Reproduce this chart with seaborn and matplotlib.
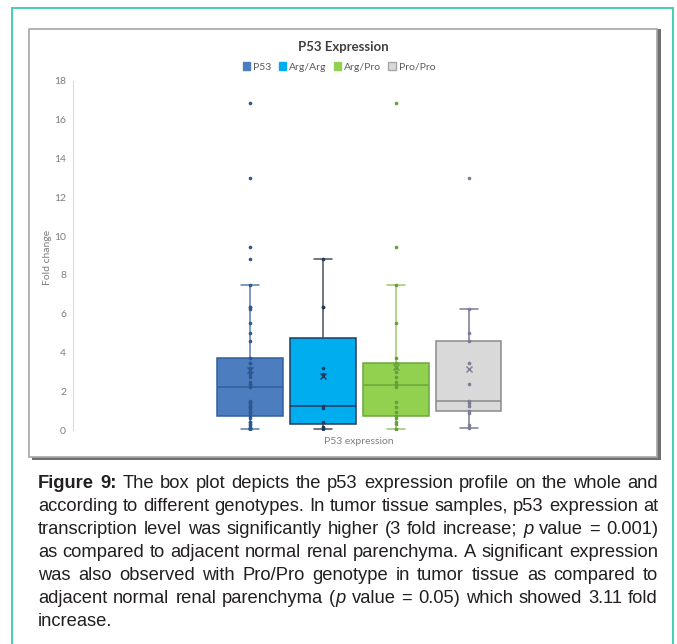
import pandas as pd
import seaborn as sns
import matplotlib.pyplot as plt
from matplotlib.patches import Rectangle, Patch

# fold change values per genotype
arg_arg = [0.05, 0.09, 0.15, 0.43, 1.12, 1.25, 2.9, 3.18, 6.36, 6.36, 8.8]
arg_pro = [0.05, 0.05, 0.31, 0.43, 0.6, 0.72, 0.94, 1.2, 1.46, 2.2, 2.32,
           2.49, 2.75, 3.0, 3.2, 3.45, 3.69, 5.5, 7.47, 9.42, 16.84]
pro_pro = [0.09, 0.26, 0.89, 0.98, 1.24, 1.41, 1.5, 2.35, 3.47, 4.6, 4.98, 6.22, 13.0]
p53_all = arg_arg + arg_pro + pro_pro

groups = ['P53', 'Arg/Arg', 'Arg/Pro', 'Pro/Pro']
fills = ['#4b7dbf', '#00aeef', '#92d050', '#d9d9d9']
edges = ['#30609f', '#1f3a5f', '#6aa83c', '#8a8a8a']
whisk = ['#5b7fb3', '#4a4f58', '#9cc96c', '#7c7c96']
dots = ['#2e568f', '#1f3a5f', '#62a03a', '#7c7c96']
yticks = list(range(0, 19, 2))

caption = [
    "Figure 9: The box plot depicts the p53 expression profile on the whole and",
    "according to different genotypes. In tumor tissue samples, p53 expression at",
    "transcription level was significantly higher (3 fold increase; p value = 0.001)",
    "as compared to adjacent normal renal parenchyma. A significant expression",
    "was also observed with Pro/Pro genotype in tumor tissue as compared to",
    "adjacent normal renal parenchyma (p value = 0.05) which showed 3.11 fold",
    "increase.",
]

df = pd.DataFrame({
    'group': ['P53'] * len(p53_all) + ['Arg/Arg'] * len(arg_arg)
             + ['Arg/Pro'] * len(arg_pro) + ['Pro/Pro'] * len(pro_pro),
    'fold': p53_all + arg_arg + arg_pro + pro_pro,
})

sns.set_style('white')
plt.rcParams['font.family'] = ['Lato', 'DejaVu Sans']

W, H = 677, 644
fig = plt.figure(figsize=(W / 100, H / 100), dpi=100)


def px(x, y):
    return x / W, 1 - y / H


# outer green frame and the grey chart panel with its shadow (behind the axes)
fig.add_artist(Rectangle(px(12, 650), 661 / W, 642 / H, transform=fig.transFigure,
                         fill=False, edgecolor='#46cfb1', linewidth=1.4, zorder=-3))
fig.add_artist(Rectangle(px(32, 460), 629 / W, 431 / H, transform=fig.transFigure,
                         facecolor='#707070', edgecolor='none', zorder=-2))
fig.add_artist(Rectangle(px(29, 457), 628 / W, 428 / H, transform=fig.transFigure,
                         facecolor='white', edgecolor='#a6a6a6', linewidth=1.2, zorder=-1))

ax = fig.add_axes([73 / W, (H - 430) / H, 572 / W, 349 / H])
ax.patch.set_alpha(0)

for g, fc, ec, wc, pc in zip(groups, fills, edges, whisk, dots):
    sub = df[df['group'] == g]
    sns.boxplot(data=sub, x='group', y='fold', order=groups, width=0.9,
                showfliers=False, showmeans=True, color=fc, linecolor=ec,
                saturation=1, linewidth=1.1, ax=ax, capwidths=0.25,
                whiskerprops=dict(color=wc), capprops=dict(color=wc),
                medianprops=dict(color=ec),
                meanprops=dict(marker='x', markeredgecolor=pc, markerfacecolor=pc,
                               markersize=5, markeredgewidth=1))
    sns.stripplot(data=sub, x='group', y='fold', order=groups, jitter=False,
                  color=pc, size=2.6, ax=ax, zorder=3)

ax.set_xlim(-2.43, 5.42)
ax.set_ylim(0, 18)
ax.set_yticks(yticks)
ax.set_xticks([])
ax.set_xlabel('')
ax.set_ylabel('')
ax.tick_params(axis='y', length=0, pad=5, labelsize=7.5, labelcolor='#7f7f7f')
for s in ['top', 'right', 'bottom']:
    ax.spines[s].set_visible(False)
ax.spines['left'].set_color('#d9d9d9')
ax.spines['left'].set_linewidth(0.8)

fig.text(*px(343, 47), 'P53 Expression', ha='center', va='center',
         fontsize=9.5, fontweight='bold', color='#404040')
fig.text(*px(48, 257), 'Fold change', ha='center', va='center', rotation=90,
         fontsize=7.5, color='#7f7f7f')
fig.text(*px(359, 442), 'P53 expression', ha='center', va='center',
         fontsize=7.5, color='#7f7f7f')

handles = [Patch(facecolor=fc, edgecolor=('#a6a6a6' if g == 'Pro/Pro' else fc))
           for g, fc in zip(groups, fills)]
fig.legend(handles, groups, loc='center', bbox_to_anchor=px(339, 67), ncol=4,
           frameon=False, fontsize=7.5, handlelength=0.7, handleheight=0.7,
           handletextpad=0.3, columnspacing=0.7, labelcolor='#595959')

# justified caption
renderer = fig.canvas.get_renderer()
left, right = 38, 658
cap_font = ['Liberation Sans', 'DejaVu Sans']
for i, line in enumerate(caption):
    words = line.split(' ')
    placed = []
    for w in words:
        if i == 0 and w in ('Figure', '9:'):
            segs = [(w, 'normal', 'bold')]
        elif w == 'p':
            segs = [(w, 'italic', 'normal')]
        elif w == '(p':
            segs = [('(', 'normal', 'normal'), ('p', 'italic', 'normal')]
        else:
            segs = [(w, 'normal', 'normal')]
        parts = []
        for s, st, wt in segs:
            t = fig.text(0, 1 - (488 + 23 * i) / H, s, fontsize=13.2, family=cap_font,
                         style=st, fontweight=wt, color='#231f20', va='baseline')
            parts.append((t, t.get_window_extent(renderer).width))
        placed.append(parts)
    widths = [sum(p[1] for p in parts) for parts in placed]
    if i < len(caption) - 1:
        gap = max((right - left - sum(widths)) / (len(words) - 1), 2.5)
    else:
        gap = 5
    x = left
    for parts, wdt in zip(placed, widths):
        xx = x
        for t, tw in parts:
            t.set_x(xx / W)
            xx += tw
        x += wdt + gap

fig.savefig('out.png', dpi=100)
